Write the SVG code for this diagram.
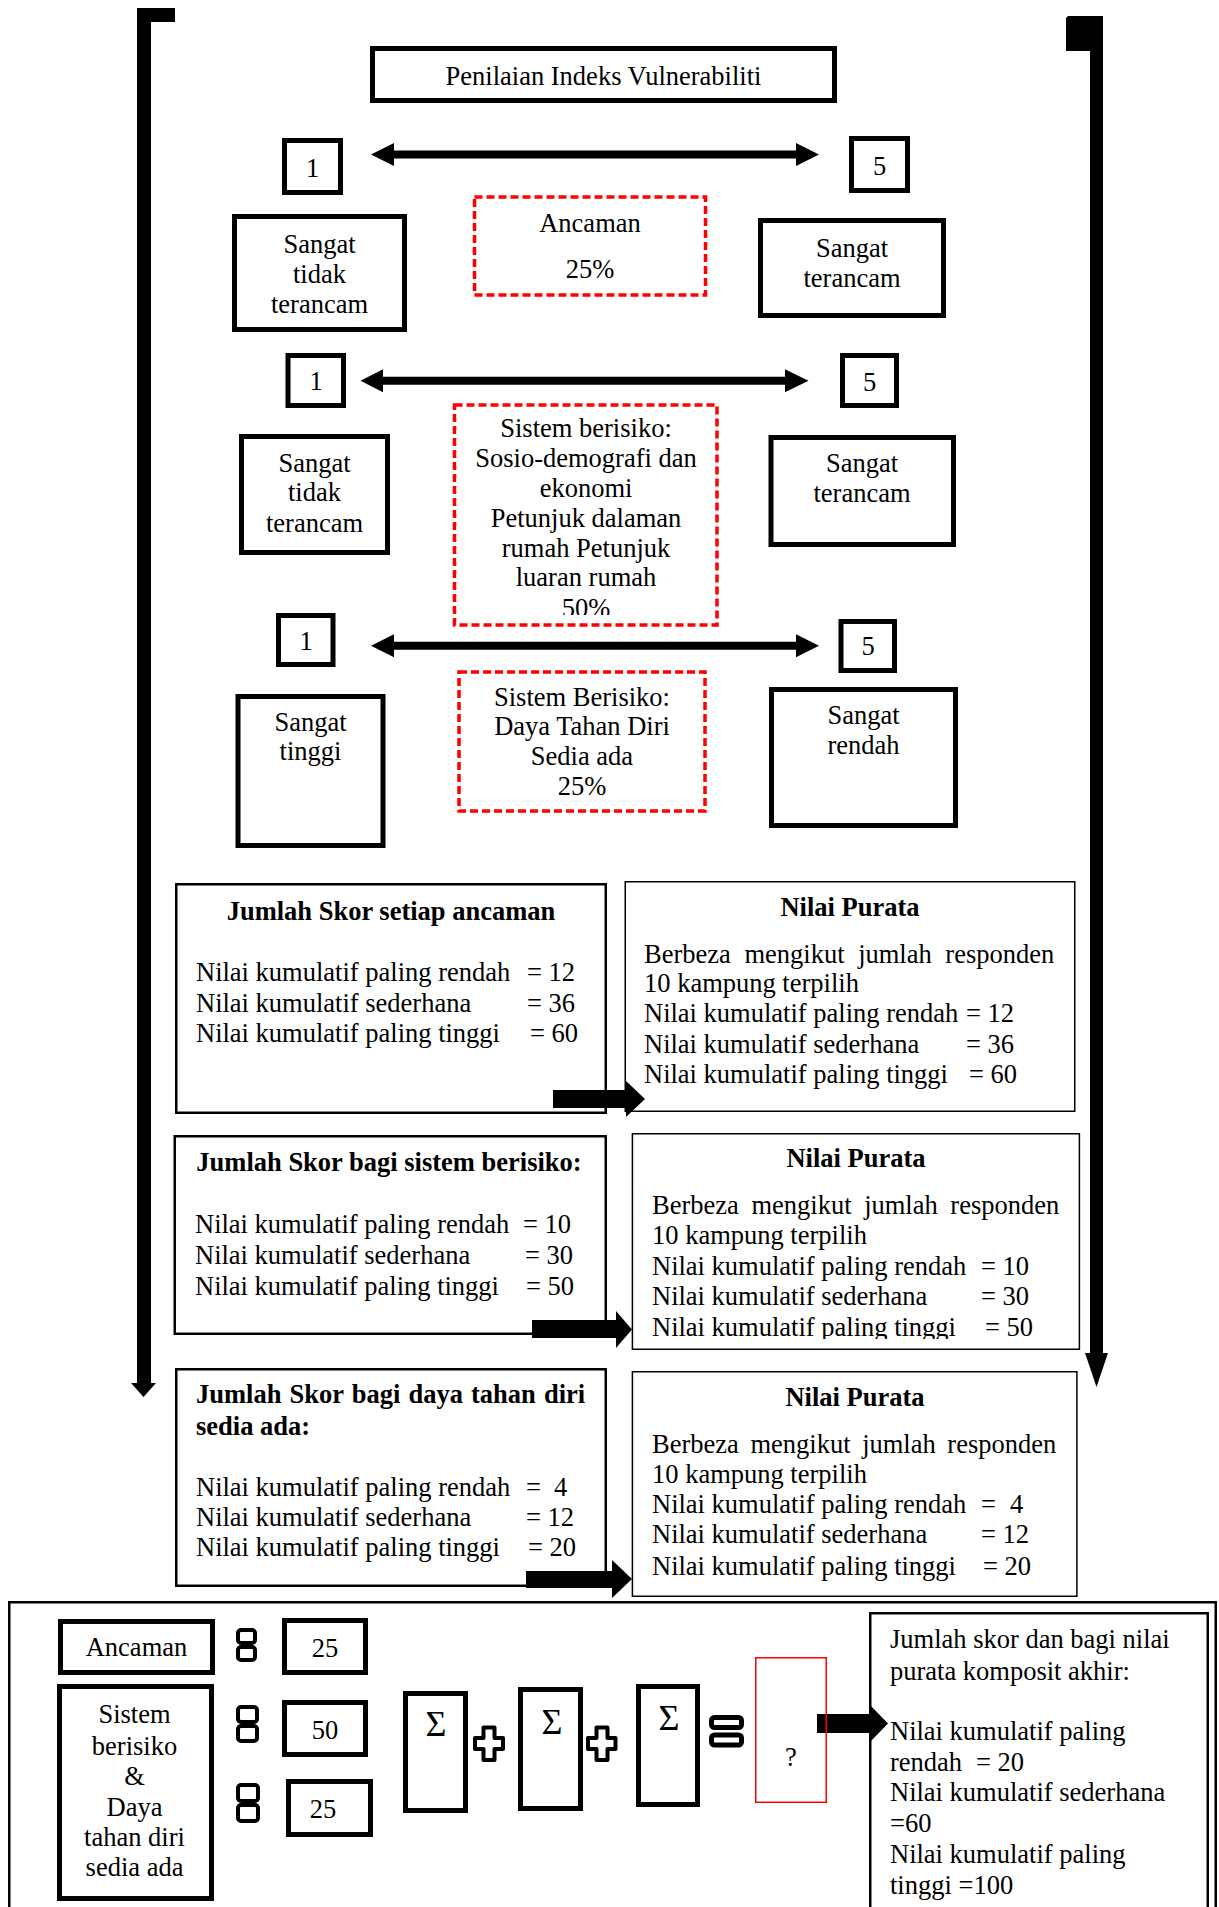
<svg xmlns="http://www.w3.org/2000/svg" width="1219" height="1907" viewBox="0 0 1219 1907">
<style>
.thick{fill:#fff;stroke:#000;stroke-width:5}
.red{fill:#fff;stroke:#f00;stroke-width:3.5;stroke-dasharray:8 4}
.lbox{fill:#fff;stroke:#000;stroke-width:2.5}
.rbox{fill:#fff;stroke:#000;stroke-width:1.5}
.ic{fill:#fff;stroke:#000;stroke-width:4;stroke-linejoin:round}
.t{font-family:"Liberation Serif","Times New Roman",serif;font-size:26.5px;fill:#000}
.c{text-anchor:middle}
.b{font-weight:bold}
.sig{font-size:36px}
.arr{fill:#000;stroke:none}
</style>
<defs>
<clipPath id="clipB"><rect x="450" y="400" width="275" height="215"/></clipPath>
<clipPath id="clipR2"><rect x="630" y="1130" width="455" height="209"/></clipPath>
</defs>
<rect x="0" y="0" width="1219" height="1907" fill="#fff"/>

<g id="title">
<rect class="thick" x="372.5" y="48.5" width="462" height="52"/>
<text class="t c" x="603.5" y="85">Penilaian Indeks Vulnerabiliti</text>
</g>

<g id="scaleA-1"><rect class="thick" x="284.5" y="140.5" width="56" height="52"/><text class="t c" x="312.5" y="177">1</text></g>
<g id="scaleA-5"><rect class="thick" x="851.5" y="138.5" width="56" height="52"/><text class="t c" x="879.5" y="175">5</text></g>
<g id="leftA"><rect class="thick" x="234.5" y="216.5" width="170" height="113"/>
<text class="t c" x="319.5" y="253">Sangat</text><text class="t c" x="319.5" y="283">tidak</text><text class="t c" x="319.5" y="313">terancam</text></g>
<g id="redA"><rect class="red" x="474.5" y="197" width="231" height="98"/>
<text class="t c" x="590" y="232">Ancaman</text><text class="t c" x="590" y="278">25%</text></g>
<g id="rightA"><rect class="thick" x="760.5" y="220.5" width="183" height="95"/>
<text class="t c" x="852" y="257">Sangat</text><text class="t c" x="852" y="287">terancam</text></g>

<g id="scaleB-1"><rect class="thick" x="288" y="355.5" width="55.5" height="50"/><text class="t c" x="316" y="390">1</text></g>
<g id="scaleB-5"><rect class="thick" x="842.5" y="355.5" width="54" height="50"/><text class="t c" x="869.5" y="391">5</text></g>
<g id="leftB"><rect class="thick" x="241.5" y="436.5" width="146" height="116"/>
<text class="t c" x="314.5" y="472">Sangat</text><text class="t c" x="314.5" y="501">tidak</text><text class="t c" x="314.5" y="532">terancam</text></g>
<g id="redB"><rect class="red" x="454.5" y="405" width="262.5" height="220"/>
<g clip-path="url(#clipB)">
<text class="t c" x="586" y="437">Sistem berisiko:</text>
<text class="t c" x="586" y="467">Sosio-demografi dan</text>
<text class="t c" x="586" y="497">ekonomi</text>
<text class="t c" x="586" y="527">Petunjuk dalaman</text>
<text class="t c" x="586" y="557">rumah Petunjuk</text>
<text class="t c" x="586" y="586">luaran rumah</text>
<text class="t c" x="586" y="617">50%</text>
</g></g>
<g id="rightB"><rect class="thick" x="771" y="437.5" width="182.5" height="107"/>
<text class="t c" x="862" y="472">Sangat</text><text class="t c" x="862" y="502">terancam</text></g>

<g id="scaleC-1"><rect class="thick" x="278.5" y="615.5" width="54.5" height="49"/><text class="t c" x="306" y="650">1</text></g>
<g id="scaleC-5"><rect class="thick" x="841" y="621.5" width="53.5" height="49"/><text class="t c" x="868" y="655">5</text></g>
<g id="leftC"><rect class="thick" x="238" y="696.5" width="145" height="149"/>
<text class="t c" x="310.5" y="731">Sangat</text><text class="t c" x="310.5" y="760">tinggi</text></g>
<g id="redC"><rect class="red" x="459" y="672" width="246" height="139"/>
<text class="t c" x="582" y="706">Sistem Berisiko:</text>
<text class="t c" x="582" y="735">Daya Tahan Diri</text>
<text class="t c" x="582" y="765">Sedia ada</text>
<text class="t c" x="582" y="795">25%</text></g>
<g id="rightC"><rect class="thick" x="771.5" y="689.5" width="184" height="136"/>
<text class="t c" x="863.5" y="724">Sangat</text><text class="t c" x="863.5" y="754">rendah</text></g>

<g id="jumlah1"><rect class="lbox" x="176.25" y="884.25" width="429.5" height="228.5"/>
<text class="t c b" x="391" y="920">Jumlah Skor setiap ancaman</text>
<text class="t" x="196" y="981">Nilai kumulatif paling rendah</text><text class="t" x="527" y="981">= 12</text>
<text class="t" x="196" y="1012">Nilai kumulatif sederhana</text><text class="t" x="527" y="1012">= 36</text>
<text class="t" x="196" y="1042">Nilai kumulatif paling tinggi</text><text class="t" x="530" y="1042">= 60</text></g>
<g id="purata1"><rect class="rbox" x="625.25" y="881.75" width="449.5" height="229.5"/>
<text class="t c b" x="850" y="916">Nilai Purata</text>
<text class="t" x="644" y="963" word-spacing="7">Berbeza mengikut jumlah responden</text>
<text class="t" x="644" y="992">10 kampung terpilih</text>
<text class="t" x="644" y="1022">Nilai kumulatif paling rendah</text><text class="t" x="966" y="1022">= 12</text>
<text class="t" x="644" y="1053">Nilai kumulatif sederhana</text><text class="t" x="966" y="1053">= 36</text>
<text class="t" x="644" y="1083">Nilai kumulatif paling tinggi</text><text class="t" x="969" y="1083">= 60</text></g>

<g id="jumlah2"><rect class="lbox" x="174.75" y="1136.25" width="431" height="197.5"/>
<text class="t c b" x="389" y="1171">Jumlah Skor bagi sistem berisiko:</text>
<text class="t" x="195" y="1233">Nilai kumulatif paling rendah</text><text class="t" x="523" y="1233">= 10</text>
<text class="t" x="195" y="1264">Nilai kumulatif sederhana</text><text class="t" x="525" y="1264">= 30</text>
<text class="t" x="195" y="1295">Nilai kumulatif paling tinggi</text><text class="t" x="526" y="1295">= 50</text></g>
<g id="purata2"><rect class="rbox" x="632.4" y="1133.75" width="447" height="215.5"/>
<text class="t c b" x="856" y="1167">Nilai Purata</text>
<text class="t" x="652" y="1214" word-spacing="6">Berbeza mengikut jumlah responden</text>
<text class="t" x="652" y="1244">10 kampung terpilih</text>
<text class="t" x="652" y="1275">Nilai kumulatif paling rendah</text><text class="t" x="981" y="1275">= 10</text>
<text class="t" x="652" y="1305">Nilai kumulatif sederhana</text><text class="t" x="981" y="1305">= 30</text>
<g clip-path="url(#clipR2)"><text class="t" x="652" y="1336">Nilai kumulatif paling tinggi</text><text class="t" x="985" y="1336">= 50</text></g></g>

<g id="jumlah3"><rect class="lbox" x="176.25" y="1369.25" width="429.5" height="216.5"/>
<text class="t b" x="196" y="1403" word-spacing="1.5">Jumlah Skor bagi daya tahan diri</text>
<text class="t b" x="196" y="1435">sedia ada:</text>
<text class="t" x="196" y="1496">Nilai kumulatif paling rendah</text><text class="t" x="526" y="1496">=</text><text class="t" x="554" y="1496">4</text>
<text class="t" x="196" y="1526">Nilai kumulatif sederhana</text><text class="t" x="526" y="1526">= 12</text>
<text class="t" x="196" y="1556">Nilai kumulatif paling tinggi</text><text class="t" x="528" y="1556">= 20</text></g>
<g id="purata3"><rect class="rbox" x="632.4" y="1371.75" width="444.5" height="224.5"/>
<text class="t c b" x="855" y="1406">Nilai Purata</text>
<text class="t" x="652" y="1453" word-spacing="5">Berbeza mengikut jumlah responden</text>
<text class="t" x="652" y="1483">10 kampung terpilih</text>
<text class="t" x="652" y="1513">Nilai kumulatif paling rendah</text><text class="t" x="981" y="1513">=</text><text class="t" x="1010" y="1513">4</text>
<text class="t" x="652" y="1543">Nilai kumulatif sederhana</text><text class="t" x="981" y="1543">= 12</text>
<text class="t" x="652" y="1575">Nilai kumulatif paling tinggi</text><text class="t" x="983" y="1575">= 20</text></g>

<g id="composite-frame"><rect class="lbox" x="9.25" y="1602.25" width="1206.5" height="400"/></g>
<g id="ancaman"><rect class="thick" x="60.5" y="1621.5" width="152" height="51"/><text class="t c" x="136.5" y="1656">Ancaman</text></g>
<g id="sistem"><rect class="thick" x="59.5" y="1686.5" width="152" height="212"/>
<text class="t c" x="134.5" y="1723">Sistem</text><text class="t c" x="134.5" y="1755">berisiko</text><text class="t c" x="134.5" y="1785">&amp;</text>
<text class="t c" x="134.5" y="1816">Daya</text><text class="t c" x="134.5" y="1846">tahan diri</text><text class="t c" x="134.5" y="1876">sedia ada</text></g>
<g id="eq1"><rect class="ic" x="238" y="1630" width="17" height="13" rx="3"/><rect class="ic" x="238" y="1647" width="17" height="13" rx="3"/></g>
<g id="eq2"><rect class="ic" x="238" y="1707" width="19" height="15" rx="3"/><rect class="ic" x="238" y="1726" width="19" height="15" rx="3"/></g>
<g id="eq3"><rect class="ic" x="238" y="1785" width="20" height="16" rx="3"/><rect class="ic" x="238" y="1805" width="20" height="16" rx="3"/></g>
<g id="w25a"><rect class="thick" x="284.5" y="1620.5" width="81" height="52"/><text class="t c" x="325" y="1657">25</text></g>
<g id="w50"><rect class="thick" x="284.5" y="1702.5" width="81" height="52"/><text class="t c" x="325" y="1739">50</text></g>
<g id="w25b"><rect class="thick" x="288.5" y="1781.5" width="82" height="53"/><text class="t c" x="323" y="1818">25</text></g>
<g id="sum1"><rect class="thick" x="405.5" y="1693.5" width="60" height="117"/><text class="t c sig" x="436" y="1736">Σ</text></g>
<g id="plus1"><path class="ic" d="M483.5,1727.5 H494.5 V1738 H503 V1749 H494.5 V1760 H483.5 V1749 H475 V1738 H483.5 Z"/></g>
<g id="sum2"><rect class="thick" x="520.5" y="1689.5" width="60" height="119"/><text class="t c sig" x="552" y="1734">Σ</text></g>
<g id="plus2"><path class="ic" d="M596.5,1727.5 H607.5 V1738 H615.5 V1749 H607.5 V1760 H596.5 V1749 H588 V1738 H596.5 Z"/></g>
<g id="sum3"><rect class="thick" x="638.5" y="1686.5" width="59" height="118"/><text class="t c sig" x="669" y="1730">Σ</text></g>
<g id="eqBig"><rect x="711.5" y="1717.5" width="30" height="10" rx="3" fill="#fff" stroke="#000" stroke-width="5"/><rect x="711.5" y="1735" width="30" height="10" rx="3" fill="#fff" stroke="#000" stroke-width="5"/></g>
<g id="final"><rect class="lbox" x="870.25" y="1613.25" width="337.5" height="400"/>
<text class="t" x="890" y="1648">Jumlah skor dan bagi nilai</text>
<text class="t" x="890" y="1680">purata komposit akhir:</text>
<text class="t" x="890" y="1740">Nilai kumulatif paling</text>
<text class="t" x="890" y="1771">rendah</text><text class="t" x="976" y="1771">= 20</text>
<text class="t" x="890" y="1801">Nilai kumulatif sederhana</text>
<text class="t" x="890" y="1832">=60</text>
<text class="t" x="890" y="1863">Nilai kumulatif paling</text>
<text class="t" x="890" y="1894">tinggi =100</text></g>

<g id="connectors">
<path class="arr" d="M137,8 H175 V22 H151 V1383 H156 L143.5,1397 L131,1383 H137 Z"/>
<path class="arr" d="M1068,16 H1103 V1353 H1108 L1096.5,1387 L1085,1353 H1090 V51 H1066 V18 Z"/>
<path class="arr" d="M371,154.5 L394,143 V150.5 H796 V143 L819,154.5 L796,166 V158.5 H394 V166 Z"/>
<path class="arr" d="M360.5,380.7 L383,369.2 V376.7 H785 V369.2 L808.5,380.7 L785,392.2 V384.7 H383 V392.2 Z"/>
<path class="arr" d="M371,645.7 L394,634.2 V641.7 H796 V634.2 L819,645.7 L796,657.2 V649.7 H394 V657.2 Z"/>
<path class="arr" d="M553,1090 H626 V1081 L645,1099 L626,1117 V1108 H553 Z"/>
<path class="arr" d="M532,1320 H616 V1311 L632,1329.5 L616,1348 V1338 H532 Z"/>
<path class="arr" d="M526,1571 H612 V1560 L632,1579 L612,1598 V1588 H526 Z"/>
<path class="arr" d="M817,1714 H870 V1705 L888,1723.5 L870,1742 V1733 H817 Z"/>
</g>
<g id="result"><rect x="755.75" y="1657.75" width="70.5" height="144.5" fill="none" stroke="#f00" stroke-width="1.5"/><text class="t c" x="791" y="1766">?</text></g>
</svg>
